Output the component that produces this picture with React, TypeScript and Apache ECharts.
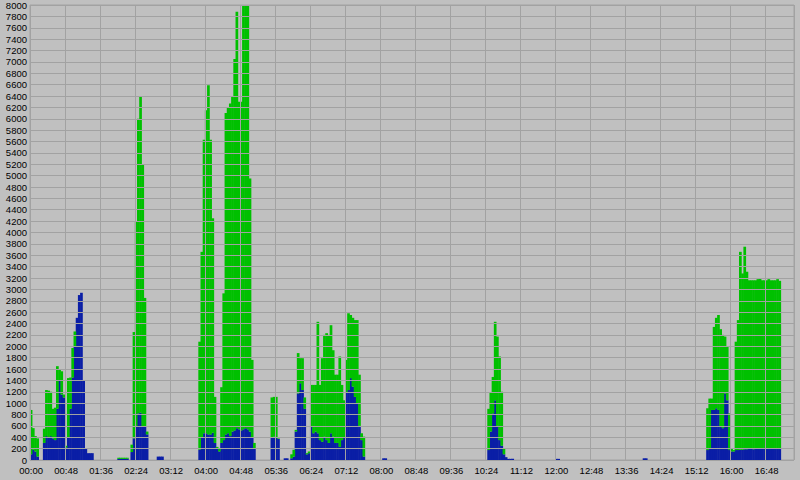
import React, { useEffect, useRef } from "react";
import * as echarts from "echarts";

// 3-minute bins starting at 00:00 (one row = 48 minutes = 16 bins)
const BIN_MINUTES = 3;

// lower (blue) series
const blueValues: number[] = [
  100, 180, 150, 60, 0, 0, 300, 420, 400, 420, 380, 350, 900, 1400, 1150, 1100,
  220, 400, 900, 1450, 2000, 2500, 2900, 2940, 1400, 210, 120, 120, 120, 0, 0, 0,
  0, 0, 0, 0, 0, 0, 0, 0, 20, 20, 20, 20, 20, 0, 140, 380,
  600, 820, 830, 600, 580, 450, 0, 0, 0, 0, 60, 60, 60, 0, 0, 0,
  0, 0, 0, 0, 0, 0, 0, 0, 0, 0, 0, 0, 0, 180, 400, 470,
  470, 450, 450, 480, 300, 200, 150, 300, 350, 450, 470, 420, 500, 520, 560, 540,
  520, 540, 560, 540, 500, 400, 200, 0, 0, 0, 0, 0, 0, 0, 400, 410,
  400, 370, 0, 0, 30, 30, 0, 30, 60, 500, 1170, 1350, 1230, 900, 100, 120,
  590, 470, 500, 470, 350, 320, 410, 350, 300, 470, 410, 300, 300, 230, 350, 400,
  1180, 1230, 1440, 1290, 1110, 1000, 600, 350, 60, 0, 0, 0, 0, 0, 0, 0,
  0, 30, 30, 0, 0, 0, 0, 0, 0, 0, 0, 0, 0, 0, 0, 0,
  0, 0, 0, 0, 0, 0, 0, 0, 0, 0, 0, 0, 0, 0, 0, 0,
  0, 0, 0, 0, 0, 0, 0, 0, 0, 0, 0, 0, 0, 0, 0, 0,
  0, 175, 500, 820, 1050, 600, 350, 250, 100, 50, 20, 20, 20, 0, 0, 0,
  0, 0, 0, 0, 0, 0, 0, 0, 0, 0, 0, 0, 0, 0, 0, 0,
  20, 20, 0, 0, 0, 0, 0, 0, 0, 0, 0, 0, 0, 0, 0, 0,
  0, 0, 0, 0, 0, 0, 0, 0, 0, 0, 0, 0, 0, 0, 0, 0,
  0, 0, 0, 0, 0, 0, 0, 0, 30, 30, 0, 0, 0, 0, 0, 0,
  0, 0, 0, 0, 0, 0, 0, 0, 0, 0, 0, 0, 0, 0, 0, 0,
  0, 0, 0, 0, 0, 175, 200, 880, 880, 910, 880, 590, 560, 1170, 1050, 175,
  150, 150, 175, 175, 180, 180, 190, 190, 200, 200, 190, 200, 200, 200, 210, 200,
  200, 200, 210, 200, 200, 210, 210, 0, 0, 0, 0, 0, 0,
];

// upper (green) series, stacked on the blue one
const greenValues: number[] = [
  780, 380, 270, 320, 0, 0, 250, 810, 820, 780, 520, 570, 750, 200, 410, 50,
  30, 1040, 550, 520, 260, 0, 0, 0, 0, 0, 0, 0, 0, 0, 0, 0,
  0, 0, 0, 0, 0, 0, 0, 0, 20, 20, 20, 20, 20, 0, 130, 1870,
  3600, 5180, 5570, 4600, 2270, 50, 0, 0, 0, 0, 0, 0, 0, 0, 0, 0,
  0, 0, 0, 0, 0, 0, 0, 0, 0, 0, 0, 0, 0, 1900, 3260, 5160,
  5680, 6140, 5180, 3770, 810, 30, 50, 980, 2580, 5650, 5730, 5850, 5900, 6530, 7320, 5760,
  5780, 7460, 7440, 7460, 4450, 1360, 100, 0, 0, 0, 0, 0, 0, 0, 700, 700,
  710, 10, 0, 0, 0, 0, 0, 70, 120, 30, 710, 440, 560, 200, 20, 30,
  730, 850, 820, 1960, 970, 1470, 1790, 1880, 1900, 1900, 1520, 1200, 1200, 1590, 970, 650,
  580, 1350, 1110, 1210, 1350, 1460, 900, 120, 350, 0, 0, 0, 0, 0, 0, 0,
  0, 0, 0, 0, 0, 0, 0, 0, 0, 0, 0, 0, 0, 0, 0, 0,
  0, 0, 0, 0, 0, 0, 0, 0, 0, 0, 0, 0, 0, 0, 0, 0,
  0, 0, 0, 0, 0, 0, 0, 0, 0, 0, 0, 0, 0, 0, 0, 0,
  0, 725, 680, 640, 1380, 1570, 1470, 950, 100, 0, 0, 0, 0, 0, 0, 0,
  0, 0, 0, 0, 0, 0, 0, 0, 0, 0, 0, 0, 0, 0, 0, 0,
  0, 0, 0, 0, 0, 0, 0, 0, 0, 0, 0, 0, 0, 0, 0, 0,
  0, 0, 0, 0, 0, 0, 0, 0, 0, 0, 0, 0, 0, 0, 0, 0,
  0, 0, 0, 0, 0, 0, 0, 0, 0, 0, 0, 0, 0, 0, 0, 0,
  0, 0, 0, 0, 0, 0, 0, 0, 0, 0, 0, 0, 0, 0, 0, 0,
  0, 0, 0, 0, 0, 735, 880, 200, 1460, 1590, 1670, 1710, 1640, 1000, 940, 645,
  50, 25, 1905, 2285, 3480, 3100, 3560, 3120, 2960, 2960, 2970, 2960, 2980, 3000, 2950, 2960,
  2960, 2980, 2950, 2960, 2960, 2970, 2940, 0, 0, 0, 0, 0, 0,
];

const Y_MIN = 0;
const Y_MAX = 8000;
const Y_STEP = 200;
const LABEL_EVERY_BINS = 16; // 48 minutes

function binLabel(i: number): string {
  const m = i * BIN_MINUTES;
  const hh = Math.floor(m / 60);
  const mm = m % 60;
  return String(hh).padStart(2, "0") + ":" + String(mm).padStart(2, "0");
}

const categories: string[] = blueValues.map((_, i) => binLabel(i));

const FONT = "'Liberation Sans', Arial, Helvetica, sans-serif";

export default function App() {
  const ref = useRef<HTMLDivElement>(null);
  useEffect(() => {
    if (!ref.current) return;
    const chart = echarts.init(ref.current, undefined, { renderer: "svg" });
    chart.setOption({
      animation: false,
      backgroundColor: "#c0c0c0",
      grid: {
        left: 30,
        right: 6,
        top: 5,
        bottom: 20,
        show: true,
        borderColor: "#a2a2a2",
        borderWidth: 1,
        backgroundColor: "transparent",
      },
      xAxis: {
        type: "category",
        data: categories,
        boundaryGap: true,
        z: 3,
        axisLine: { show: false },
        axisTick: { show: false },
        axisLabel: {
          interval: LABEL_EVERY_BINS - 1,
          color: "#000",
          fontSize: 9.5,
          fontFamily: FONT,
          margin: 5,
        },
        splitLine: {
          show: true,
          interval: LABEL_EVERY_BINS - 1,
          lineStyle: { color: "#a2a2a2", width: 1 },
        },
      },
      yAxis: {
        type: "value",
        min: Y_MIN,
        max: Y_MAX,
        interval: Y_STEP,
        z: 3,
        axisLine: { show: false },
        axisTick: { show: false },
        axisLabel: {
          color: "#000",
          fontSize: 9.5,
          fontFamily: FONT,
          margin: 3,
          formatter: (v: number) => String(v),
        },
        splitLine: { show: true, lineStyle: { color: "#a2a2a2", width: 1 } },
      },
      series: [
        {
          type: "bar",
          stack: "total",
          data: blueValues,
          barWidth: 2.7,
          itemStyle: { color: "#0a1ea6" },
        },
        {
          type: "bar",
          stack: "total",
          data: greenValues,
          barWidth: 2.7,
          itemStyle: { color: "#00c000" },
        },
      ],
    });
    return () => chart.dispose();
  }, []);
  return (
    <div
      ref={ref}
      style={{ position: "fixed", left: 0, top: 0, width: 800, height: 480 }}
    />
  );
}
